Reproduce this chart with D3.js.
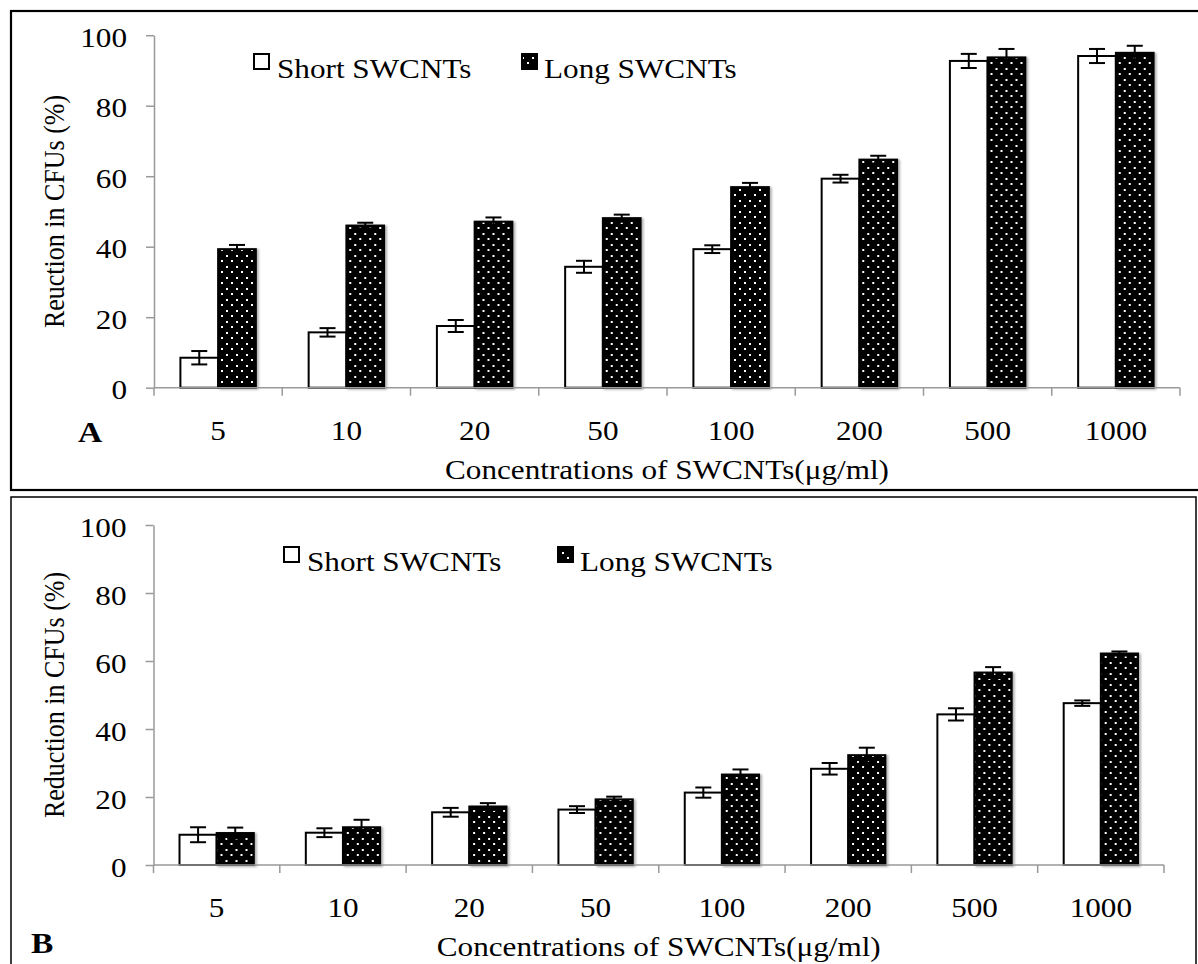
<!DOCTYPE html>
<html lang="en">
<head>
<meta charset="UTF-8">
<title>Reduction in CFUs by SWCNT concentration</title>
<script src="https://d3js.org/d3.v7.min.js"></script>
<style>
  body { margin: 0; background: #fff; }
  svg text { font-family: 'Liberation Serif', 'Times New Roman', serif; fill: #000; }
</style>
</head>
<body>
<svg id="chart" width="1198" height="964"></svg>
<script>
  // concentrations (µg/ml)
  const conc = ["5", "10", "20", "50", "100", "200", "500", "1000"];
  const yTicks = [0, 20, 40, 60, 80, 100];
  const seriesNames = ["Short SWCNTs", "Long SWCNTs"];

  // panel A
  const shortA    = [8.5, 15.7, 17.5, 34.3, 39.3, 59.3, 92.7, 94.1];
  const shortAErr = [1.9, 1.2, 1.7, 1.7, 1.1, 1.1, 2.0, 2.0];
  const longA     = [39.3, 46.0, 47.1, 48.1, 56.9, 64.7, 93.7, 95.0];
  const longAErr  = [1.2, 0.8, 1.2, 1.0, 1.2, 1.1, 2.4, 2.0];

  // panel B
  const shortB    = [8.9, 9.5, 15.5, 16.3, 21.3, 28.3, 44.3, 47.6];
  const shortBErr = [2.2, 1.3, 1.3, 1.0, 1.5, 1.7, 1.8, 0.8];
  const longB     = [9.4, 11.1, 17.2, 19.3, 26.6, 32.3, 56.6, 62.2];
  const longBErr  = [1.6, 2.2, 1.0, 0.8, 1.5, 2.2, 1.6, 0.6];

  const svg = d3.select("#chart");
  const SX = 1.155; // the figure is stretched horizontally

  const defs = svg.append("defs");
  const pat = defs.append("pattern")
    .attr("id", "dots")
    .attr("patternUnits", "userSpaceOnUse")
    .attr("width", 10).attr("height", 11);
  pat.append("rect").attr("width", 10).attr("height", 11).attr("fill", "#000");
  pat.append("rect").attr("x", 2).attr("y", 2).attr("width", 2).attr("height", 2).attr("fill", "#fff");
  pat.append("rect").attr("x", 7).attr("y", 7).attr("width", 2).attr("height", 2).attr("fill", "#fff");

  const shadow = defs.append("filter").attr("id", "shadow")
    .attr("x", "-20%").attr("y", "-5%").attr("width", "150%").attr("height", "115%");
  shadow.append("feDropShadow")
    .attr("dx", 2).attr("dy", 1).attr("stdDeviation", 1.2)
    .attr("flood-color", "#000").attr("flood-opacity", 0.3);

  function label(parent, x, y, txt, opts = {}) {
    return parent.append("text")
      .attr("transform", `translate(${x},${y}) scale(${SX},1)` + (opts.rotate ? ` rotate(${opts.rotate})` : ""))
      .attr("text-anchor", opts.anchor || "start")
      .style("font-size", (opts.size || 27) + "px")
      .style("font-weight", opts.bold ? "bold" : "normal")
      .text(txt);
  }

  function drawPanel(cfg) {
    const g = svg.append("g");

    // frame
    g.append("rect")
      .attr("x", cfg.frame[0]).attr("y", cfg.frame[1])
      .attr("width", cfg.frame[2]).attr("height", cfg.frame[3])
      .attr("fill", "none").attr("stroke", "#000")
      .attr("stroke-width", cfg.frameStroke);

    const x = d3.scaleBand().domain(conc).range([cfg.left, cfg.right]);
    const xs = d3.scaleBand().domain(seriesNames).range([0, x.bandwidth()])
      .paddingInner(0).paddingOuter(0.7);
    const y = d3.scaleLinear().domain([0, 100]).range([cfg.zero, cfg.top]);

    const rows = conc.map((c, i) => ({
      c,
      vals: [
        { s: seriesNames[0], v: cfg.short[i], e: cfg.shortErr[i] },
        { s: seriesNames[1], v: cfg.long[i], e: cfg.longErr[i] }
      ]
    }));

    const groups = g.selectAll(".grp").data(rows).enter().append("g")
      .attr("transform", d => `translate(${x(d.c)},0)`);

    groups.selectAll("rect").data(d => d.vals).enter().append("rect")
      .attr("x", d => xs(d.s))
      .attr("y", d => y(d.v))
      .attr("width", xs.bandwidth())
      .attr("height", d => y(0) - y(d.v))
      .attr("fill", d => d.s === seriesNames[0] ? "#fff" : "url(#dots)")
      .attr("stroke", "#000")
      .attr("stroke-width", 2)
      .attr("filter", d => d.s === seriesNames[1] ? "url(#shadow)" : null);

    // error bars
    const eb = groups.selectAll(".eb").data(d => d.vals).enter().append("g")
      .attr("stroke", "#000").attr("stroke-width", 2);
    const cx = d => xs(d.s) + xs.bandwidth() / 2;
    eb.append("line")
      .attr("x1", cx).attr("x2", cx)
      .attr("y1", d => y(d.v + d.e)).attr("y2", d => y(d.v - d.e));
    eb.append("line")
      .attr("x1", d => cx(d) - 8).attr("x2", d => cx(d) + 8)
      .attr("y1", d => y(d.v + d.e)).attr("y2", d => y(d.v + d.e));
    eb.append("line")
      .attr("x1", d => cx(d) - 8).attr("x2", d => cx(d) + 8)
      .attr("y1", d => y(d.v - d.e)).attr("y2", d => y(d.v - d.e));

    // y axis
    const ya = g.append("g")
      .attr("transform", `translate(${cfg.left},0)`)
      .call(d3.axisLeft(y).tickValues(yTicks).tickSize(8).tickSizeOuter(0));
    ya.select(".domain").attr("stroke", "#999").attr("stroke-width", 1.5);
    ya.selectAll(".tick line").attr("stroke", "#999").attr("stroke-width", 1.5);
    ya.selectAll(".tick text")
      .attr("x", null).attr("dy", null)
      .attr("transform", `translate(-27,11) scale(${SX},1)`)
      .attr("text-anchor", "end")
      .style("font-family", "'Liberation Serif', 'Times New Roman', serif")
      .style("font-size", "27px")
      .attr("fill", "#000");

    // x axis: line, boundary ticks, centred labels
    const xa = g.append("g");
    xa.append("line")
      .attr("x1", cfg.left).attr("x2", cfg.right)
      .attr("y1", y(0)).attr("y2", y(0))
      .attr("stroke", "#999").attr("stroke-width", 1.5);
    const bounds = conc.map(c => x(c)).concat([x.range()[1]]);
    xa.selectAll(".xt").data(bounds).enter().append("line")
      .attr("x1", d => d).attr("x2", d => d)
      .attr("y1", y(0)).attr("y2", y(0) + 8)
      .attr("stroke", "#999").attr("stroke-width", 1.5);
    conc.forEach(c => label(xa, x(c) + x.bandwidth() / 2, y(0) + 52, c, { anchor: "middle" }));

    // titles
    label(g, (cfg.left + cfg.right) / 2, y(0) + 91, "Concentrations of SWCNTs(μg/ml)", { anchor: "middle" });
    label(g, cfg.yTitleX, (y(0) + y(100)) / 2, cfg.yTitle, { anchor: "middle", rotate: -90, size: 26 });
    label(g, cfg.letter[0], cfg.letter[1], cfg.letter[2], { bold: true, size: 29 });

    // legend
    const lg = g.append("g");
    lg.append("rect").attr("x", cfg.legend[0]).attr("y", cfg.legend[1])
      .attr("width", 15).attr("height", 15)
      .attr("fill", "#fff").attr("stroke", "#000").attr("stroke-width", 2);
    label(lg, cfg.legend[0] + 23, cfg.legend[1] + 24, seriesNames[0]);
    lg.append("rect").attr("x", cfg.legend[2]).attr("y", cfg.legend[1])
      .attr("width", 15).attr("height", 15)
      .attr("fill", "url(#dots)").attr("stroke", "#000").attr("stroke-width", 2);
    label(lg, cfg.legend[2] + 22, cfg.legend[1] + 24, seriesNames[1]);
  }

  drawPanel({
    frame: [11, 11, 1200, 479], frameStroke: 2.2,
    left: 154, right: 1180, zero: 387.7, top: 35.2,
    short: shortA, shortErr: shortAErr, long: longA, longErr: longAErr,
    yTitle: "Reuction in CFUs (%)", yTitleX: 64,
    letter: [78, 442, "A"],
    legend: [254, 54, 522]
  });

  drawPanel({
    frame: [11, 497, 1185, 480], frameStroke: 1.5,
    left: 153.5, right: 1164, zero: 865, top: 525,
    short: shortB, shortErr: shortBErr, long: longB, longErr: longBErr,
    yTitle: "Reduction in CFUs (%)", yTitleX: 64,
    letter: [31, 953, "B"],
    legend: [284, 547, 558]
  });
</script>
</body>
</html>
